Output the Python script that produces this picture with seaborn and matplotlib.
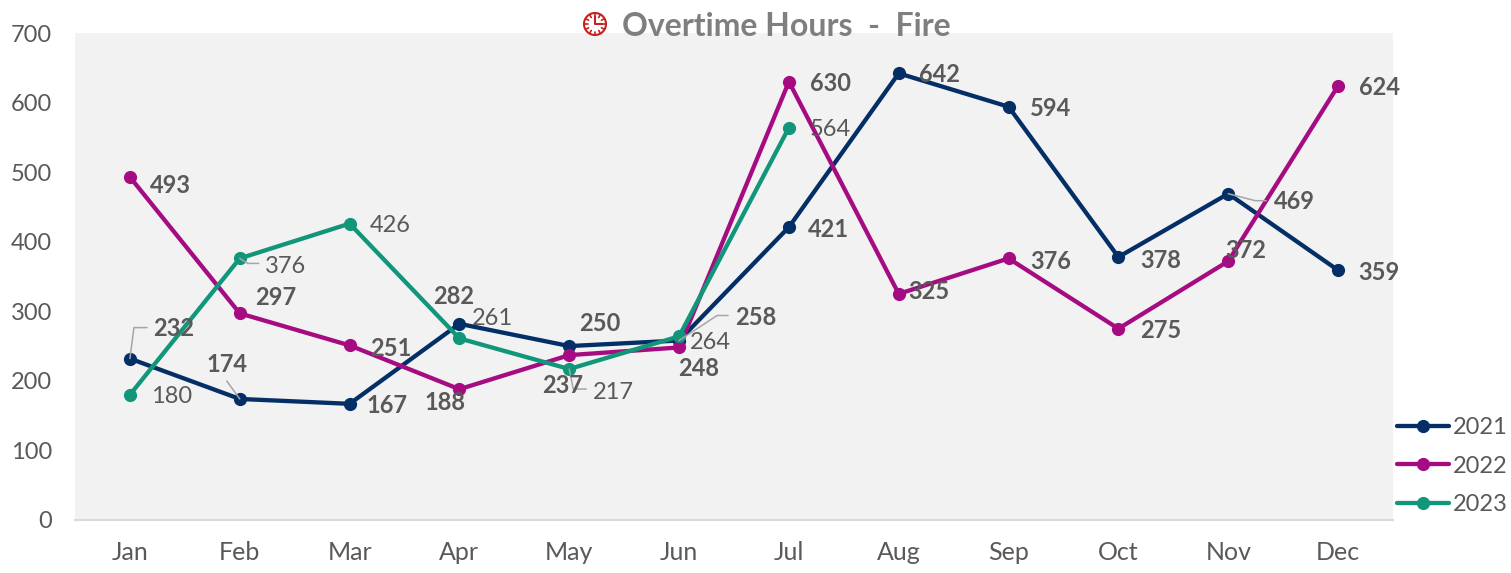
"""

Overtime Hours - Fire:

    Monthly overtime hours per year, with hand placed data labels

"""

# Import libraries

import numpy as np
import pandas as pd
import seaborn as sns
import matplotlib.pyplot as plt
from matplotlib.patches import Circle
from matplotlib.lines import Line2D
from matplotlib.transforms import IdentityTransform

sns.set_style('white')
plt.rcParams['font.family'] = ['Lato', 'DejaVu Sans']

# Data

Months = ['Jan', 'Feb', 'Mar', 'Apr', 'May', 'Jun', 'Jul', 'Aug', 'Sep', 'Oct', 'Nov', 'Dec']
Hours2021 = [232, 174, 167, 282, 250, 258, 421, 642, 594, 378, 469, 359]
Hours2022 = [493, 297, 251, 188, 237, 248, 630, 325, 376, 275, 372, 624]
Hours2023 = [180, 376, 426, 261, 217, 264, 564]
Years = ['2021', '2022', '2023']
YTicks = [0, 100, 200, 300, 400, 500, 600, 700]

Colors = {'2021': '#042F66', '2022': '#A50C82', '2023': '#12967A'}
TextColor = '#595959'

# Label offsets from each point, in pixels (x right, y up)

Offsets2021 = [(44, 30), (-13, 34), (37, -2), (-6, 27), (31, 23), (77, 23),
               (40, -2), (41, -1), (42, -2), (42, -3), (66, -8), (41, -2)]
Offsets2022 = [(41, -8), (36, 16), (41, -3), (-14, -13), (-7, -30), (20, -21),
               (42, -2), (30, 2), (42, -3), (42, -2), (18, 11), (41, -2)]
Offsets2023 = [(42, -2), (46, -8), (41, -2), (33, 20), (44, -23), (31, -6), (41, -2)]

# Leader lines: month index, value, path in pixels from the point

Leaders = [(0, 232, [(0, 0), (4, 31), (17, 31)]),
           (1, 174, [(0, 0), (-13, 18)]),
           (1, 376, [(0, 0), (8, -5), (19, -5)]),
           (4, 217, [(0, 0), (4, -20), (17, -20)]),
           (5, 258, [(0, 0), (38, 25), (49, 25)]),
           (10, 469, [(0, 0), (27, -7), (38, -7)])]

# Build long table

Frames = []
for Year, Values in zip(Years, [Hours2021, Hours2022, Hours2023]):
    Frames.append(pd.DataFrame({'Month': Months[:len(Values)], 'Hours': Values, 'Year': Year}))
df = pd.concat(Frames, ignore_index=True)

# Plot

W, H = 1511, 573
fig = plt.figure(figsize=(W / 100, H / 100), dpi=100)
ax = fig.add_axes([75 / W, 1 - 520 / H, (1393 - 75) / W, (520 - 33) / H])
ax.set_facecolor('#F2F2F2')

sns.lineplot(data=df, x='Month', y='Hours', hue='Year', palette=Colors, marker='o',
             markersize=9.5, markeredgewidth=0, linewidth=3.1, sort=False, legend=False, ax=ax)

ax.set_xlim(-0.5, 11.5)
ax.set_ylim(0, 700)
ax.set_yticks(YTicks)
ax.set_xlabel('')
ax.set_ylabel('')
ax.tick_params(axis='x', length=0, pad=15, labelsize=18, labelcolor=TextColor)
ax.tick_params(axis='y', length=0, pad=16.5, labelsize=17, labelcolor=TextColor)

for Side in ['top', 'left', 'right']:
    ax.spines[Side].set_visible(False)
ax.spines['bottom'].set_color('#D9D9D9')
ax.spines['bottom'].set_linewidth(1.5)

# Leader lines

for Index, Value, Path in Leaders:
    Start = ax.transData.transform((Index, Value))
    Points = Start + np.array(Path)
    ax.add_line(Line2D(Points[:, 0], Points[:, 1], color='#A6A6A6', linewidth=1.1,
                       transform=IdentityTransform(), zorder=4, clip_on=False))

# Data labels

for Values, Offsets, Weight in [(Hours2021, Offsets2021, 'bold'),
                                (Hours2022, Offsets2022, 'bold'),
                                (Hours2023, Offsets2023, 'normal')]:
    for i, (Value, Offset) in enumerate(zip(Values, Offsets)):
        ax.annotate(str(Value), xy=(i, Value), xytext=Offset, textcoords='offset pixels',
                    ha='center', va='center', fontsize=17, fontweight=Weight,
                    color=TextColor, zorder=5)

# Legend

Handles = [Line2D([], [], color=Colors[y], marker='o', markersize=9.5, markeredgewidth=0,
                  linewidth=3.1, solid_capstyle='round') for y in Years]
fig.legend(Handles, Years, loc='upper left', bbox_to_anchor=(1397 / W, 1 - 417 / H),
           borderaxespad=0, borderpad=0, frameon=False, fontsize=17, labelcolor=TextColor,
           handlelength=2.2, handletextpad=0.15, labelspacing=0.75)

# Title with the clock icon

fig.text(786 / W, 1 - 27 / H, 'Overtime Hours  -  Fire', ha='center', va='center',
         fontsize=23, fontweight='bold', color='#7F7F7F', zorder=10)

Cx, Cy = 595, H - 24
ClockRed = '#C8201E'
fig.add_artist(Circle((Cx, Cy), 11, facecolor='white', edgecolor=ClockRed, linewidth=1.5,
                      transform=IdentityTransform(), zorder=10))
for Angle in np.deg2rad(np.arange(0, 360, 30)):
    fig.add_artist(Line2D([Cx + 7.5 * np.cos(Angle), Cx + 10 * np.cos(Angle)],
                          [Cy + 7.5 * np.sin(Angle), Cy + 10 * np.sin(Angle)],
                          color=ClockRed, linewidth=1.2, transform=IdentityTransform(), zorder=11))
fig.add_artist(Line2D([Cx, Cx, Cx + 7], [Cy + 7, Cy, Cy], color=ClockRed, linewidth=1.5,
                      transform=IdentityTransform(), zorder=11))

fig.savefig('out.png', dpi=100)
